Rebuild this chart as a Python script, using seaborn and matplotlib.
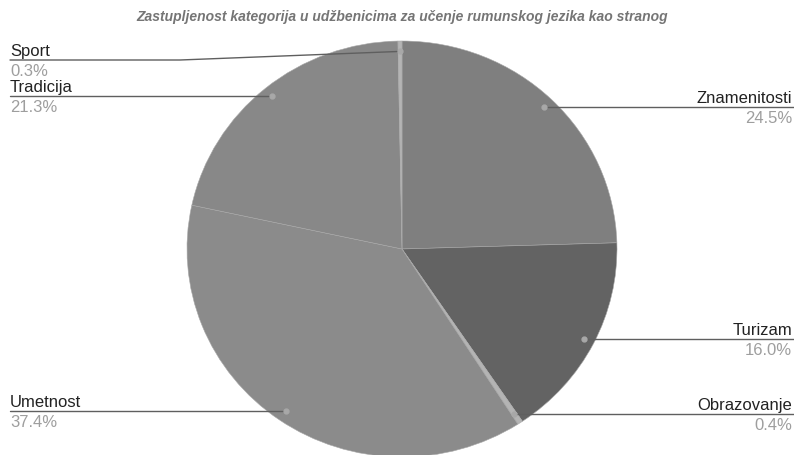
import numpy as np
import matplotlib
matplotlib.use("Agg")
import matplotlib.pyplot as plt
import seaborn as sns

# data, clockwise from 12 o'clock
categories = ["Znamenitosti", "Turizam", "Obrazovanje", "Umetnost", "Tradicija", "Sport"]
shares = [24.5, 16.0, 0.4, 37.4, 21.3, 0.3]
colors = ["#7f7f7f", "#636363", "#b4b4b4", "#8b8b8b", "#888888", "#b4b4b4"]
title = "Zastupljenost kategorija u udžbenicima za učenje rumunskog jezika kao stranog"

sns.set_theme(style="white")
plt.rcParams['font.family'] = ['Liberation Sans', 'DejaVu Sans']

W, H = 794, 455
fig = plt.figure(figsize=(W/100, H/100), dpi=100)
ax = fig.add_axes([0, 0, 1, 1])

wedges, _ = ax.pie(shares, colors=colors, startangle=90, counterclock=False,
                   radius=1, wedgeprops=dict(edgecolor="#a8a8a8", linewidth=0.4))

# pixel geometry of the pie
cx, cy, rx, ry = 402, 249, 215, 208
ax.set_aspect('auto')
ax.set_xlim(-cx/rx, (W-cx)/rx)
ax.set_ylim(-(H-cy)/ry, cy/ry)
ax.axis('off')

xl = (10-cx)/rx
xr = (792-cx)/rx
ly_override = {"Sport": (cy-60)/ry}

for w, name, val in zip(wedges, categories, shares):
    mid = np.deg2rad((w.theta1 + w.theta2)/2)
    px, py = 0.95*np.cos(mid), 0.95*np.sin(mid)
    ax.plot(px, py, 'o', ms=3.5, color="#a8a8a8", zorder=5)
    ly = ly_override.get(name, py)
    if px > 0:
        ax.plot([px, (W-cx)/rx], [ly, ly], color="#5f5f5f", lw=1, zorder=4)
        tx, ha = xr, 'right'
    else:
        if name in ly_override:
            ax.plot([xl, (180-cx)/rx, px], [ly, ly, py], color="#5f5f5f", lw=1, zorder=4)
        else:
            ax.plot([xl, px], [ly, ly], color="#5f5f5f", lw=1, zorder=4)
        tx, ha = xl, 'left'
    ax.annotate(name, xy=(tx, ly), xytext=(0, 4), textcoords='offset pixels',
                ha=ha, va='baseline', fontsize=12, color="#222222")
    ax.annotate(f"{val:.1f}%", xy=(tx, ly), xytext=(0, -4), textcoords='offset pixels',
                ha=ha, va='top', fontsize=12, color="#9e9e9e")

fig.text(402/W, 1-17/H, title, ha='center', va='center', fontsize=10,
         fontstyle='italic', fontweight='bold', color="#757575")

fig.savefig("out.png", dpi=100)
